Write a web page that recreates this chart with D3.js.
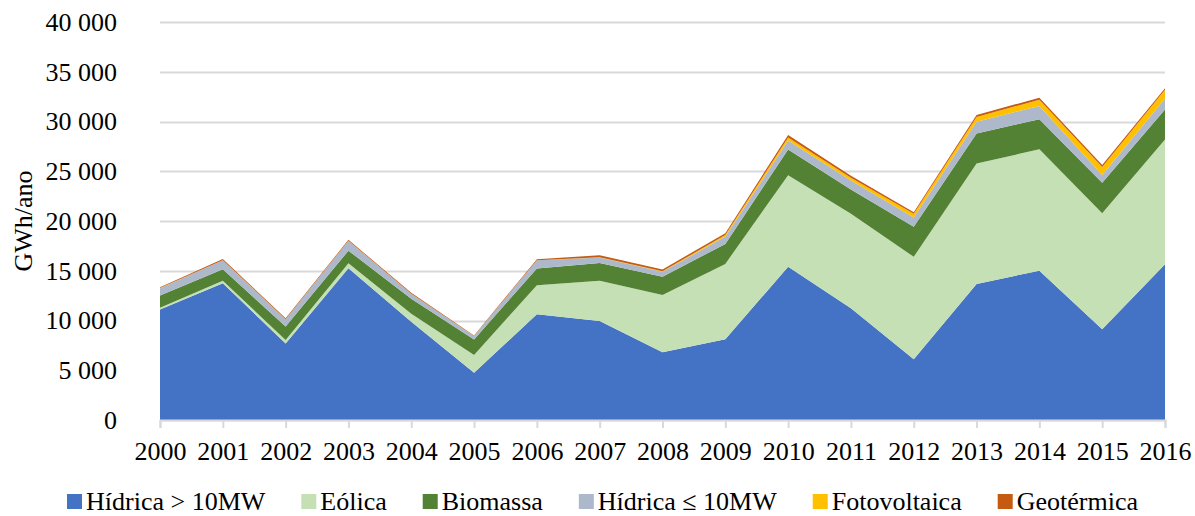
<!DOCTYPE html>
<html>
<head>
<meta charset="utf-8">
<script src="https://cdn.jsdelivr.net/npm/d3@7"></script>
<style>
  body { margin: 0; background: #fff; }
  text { font-family: "Liberation Serif", "Times New Roman", serif; fill: #000; }
</style>
</head>
<body>
<script>
var years = [2000, 2001, 2002, 2003, 2004, 2005, 2006, 2007, 2008,
             2009, 2010, 2011, 2012, 2013, 2014, 2015, 2016],
	hidricaGrande = [11100, 13740, 7700, 15250, 9880, 4760, 10620, 9950, 6800,
	                 8110, 15410, 11220, 6100, 13670, 15010, 9110, 15650],
	eolica = [170, 250, 350, 500, 800, 1770, 2930, 4040, 5760,
	          7580, 9200, 9500, 10300, 12120, 12190, 11660, 12540],
	biomassa = [1250, 1170, 1340, 1270, 1510, 1570, 1680, 1800, 1840,
	            2010, 2580, 2450, 3010, 3010, 3020, 3080, 3020],
	hidricaPequena = [730, 900, 740, 1000, 500, 330, 830, 540, 500,
	                  730, 900, 900, 940, 1170, 1340, 770, 1100],
	fotovoltaica = [5, 5, 5, 5, 5, 5, 5, 25, 40,
	                160, 300, 280, 390, 480, 630, 800, 870],
	geotermica = [80, 105, 95, 90, 85, 70, 85, 200, 190,
	              185, 250, 210, 145, 200, 205, 205, 170],
	seriesNames = ["Hídrica > 10MW", "Eólica", "Biomassa", "Hídrica ≤ 10MW", "Fotovoltaica", "Geotérmica"],
	seriesKeys = ["hg", "eo", "bio", "hp", "pv", "geo"],
	colors = ["#4472C4", "#C5E0B4", "#548235", "#ADB9CA", "#FFC000", "#C55A11"],
	yTicks = [0, 5000, 10000, 15000, 20000, 25000, 30000, 35000, 40000];

var width = 1195,
	height = 516,
	lPad = 160,
	rPad = 30,
	tPad = 22,
	bPad = 96,
	fontSize = "26px";

// build rows for d3.stack
var table = years.map(function(y, i) {
	return { year: y, hg: hidricaGrande[i], eo: eolica[i], bio: biomassa[i],
	         hp: hidricaPequena[i], pv: fotovoltaica[i], geo: geotermica[i] };
});
var stacked = d3.stack().keys(seriesKeys)(table);

var xScale = d3.scaleLinear().domain([2000, 2016]).range([lPad, width - rPad]);
var yScale = d3.scaleLinear().domain([0, 40000]).range([height - bPad, tPad]);

var loc = d3.formatLocale({ decimal: ",", thousands: " ", grouping: [3], currency: ["", ""] });
var fmt = loc.format(",d");

var svg = d3.select("body").append("svg")
	.attr("width", width)
	.attr("height", height);

// gridlines
svg.append("g").selectAll("line")
	.data(yTicks)
	.enter().append("line")
	.attr("x1", lPad)
	.attr("x2", width - rPad)
	.attr("y1", function(d) { return Math.round(yScale(d)) + 0.5; })
	.attr("y2", function(d) { return Math.round(yScale(d)) + 0.5; })
	.style("stroke", "#d9d9d9")
	.style("stroke-width", 2);

// stacked areas
var area = d3.area()
	.x(function(d) { return xScale(d.data.year); })
	.y0(function(d) { return yScale(d[0]); })
	.y1(function(d) { return yScale(d[1]); });

svg.append("g").selectAll("path")
	.data(stacked)
	.enter().append("path")
	.attr("d", area)
	.style("fill", function(d, i) { return colors[i]; });

// x axis
var xAxis = d3.axisBottom(xScale)
	.tickValues(years)
	.tickFormat(d3.format("d"))
	.tickSize(8)
	.tickPadding(14);
var gx = svg.append("g")
	.attr("transform", "translate(0," + (height - bPad) + ")")
	.call(xAxis);
gx.select(".domain").style("stroke", "#d9d9d9").style("stroke-width", 2);
gx.selectAll(".tick line").style("stroke", "#d9d9d9").style("stroke-width", 2);
gx.selectAll("text")
	.style("font-size", fontSize)
	.style("font-family", "Liberation Serif")
	.attr("fill", "#000");

// y axis labels
var yAxis = d3.axisLeft(yScale)
	.tickValues(yTicks)
	.tickFormat(fmt)
	.tickSize(0)
	.tickPadding(43);
var gy = svg.append("g")
	.attr("transform", "translate(" + lPad + ",0)")
	.call(yAxis);
gy.select(".domain").remove();
gy.selectAll("text")
	.style("font-size", fontSize)
	.style("font-family", "Liberation Serif")
	.attr("fill", "#000");

// y title
svg.append("text")
	.attr("transform", "translate(32,221) rotate(-90)")
	.style("text-anchor", "middle")
	.style("font-size", fontSize)
	.text("GWh/ano");

// legend, laid out left to right
var legend = svg.append("g");
var lx = 67;
seriesNames.forEach(function(name, i) {
	legend.append("rect")
		.attr("x", lx)
		.attr("y", 494)
		.attr("width", 15)
		.attr("height", 15)
		.style("fill", colors[i]);
	var t = legend.append("text")
		.attr("x", lx + 19)
		.attr("y", 510)
		.style("font-size", fontSize)
		.text(name);
	lx = lx + 19 + t.node().getComputedTextLength() + 36;
});
</script>
</body>
</html>
